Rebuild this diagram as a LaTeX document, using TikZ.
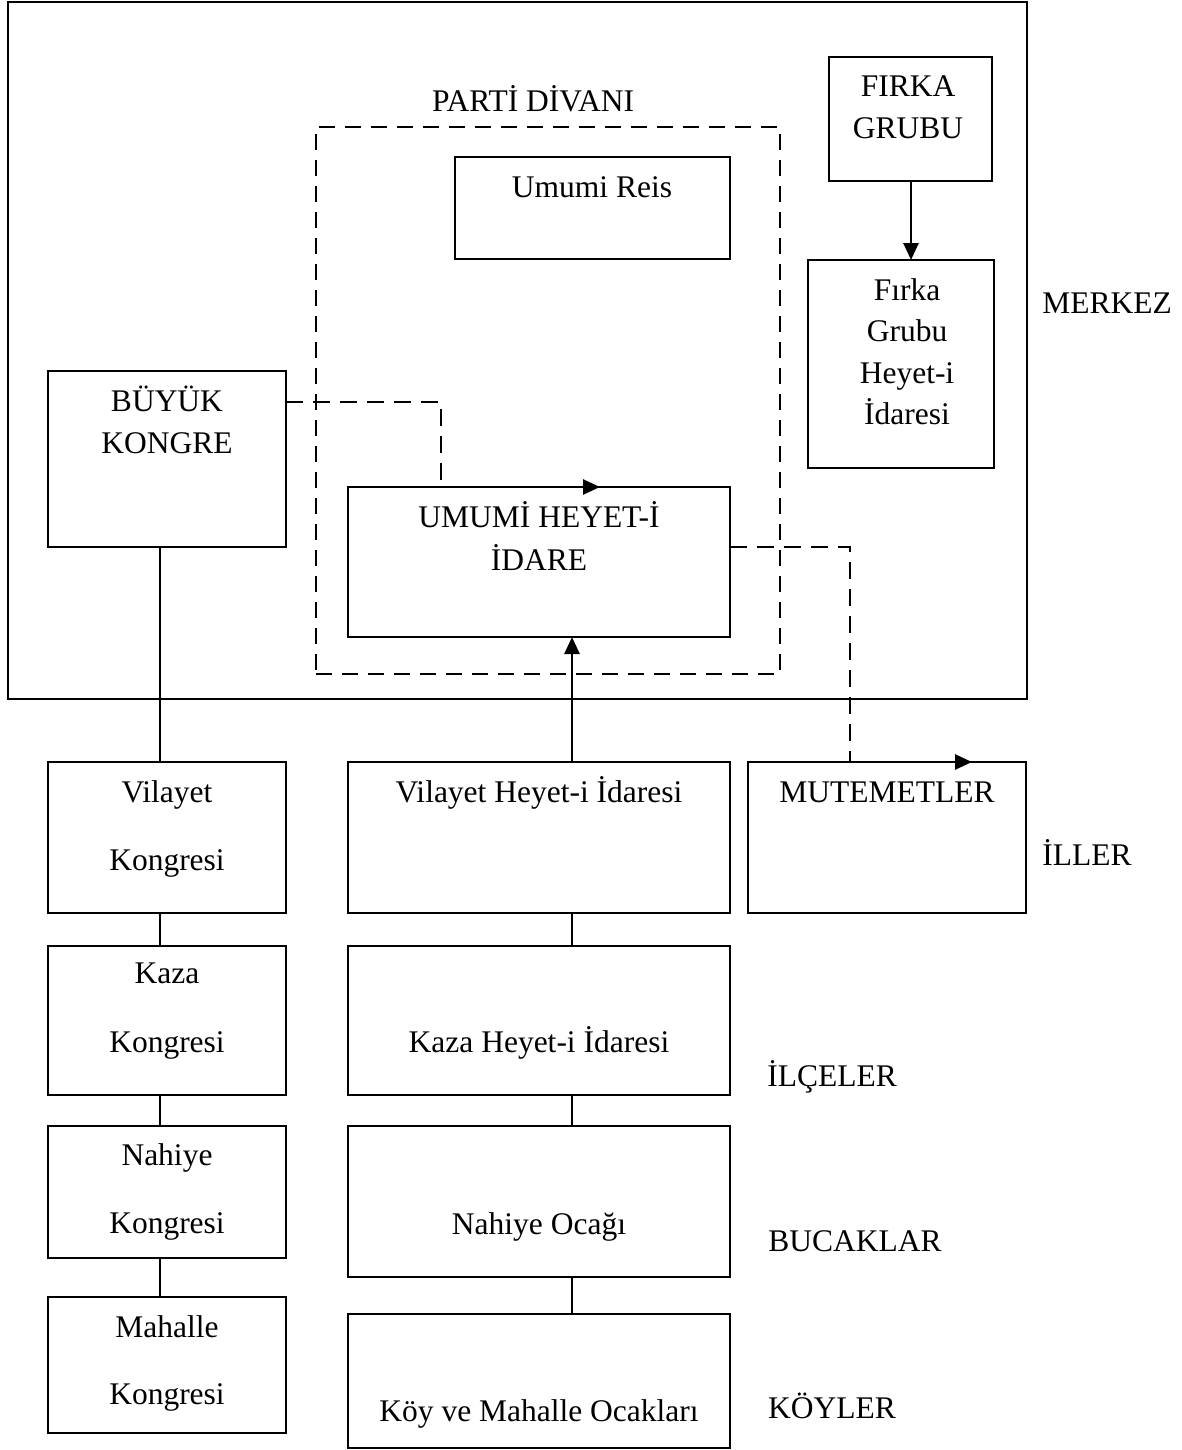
\documentclass[tikz,border=0pt]{standalone}
\usepackage{fontspec}
\setmainfont{Liberation Serif}
\usetikzlibrary{arrows.meta}
\begin{document}
\begin{tikzpicture}[x=1pt,y=-1pt,
  box/.style={draw, line width=2.1pt, anchor=north west, inner sep=0pt, outer sep=0pt},
  dbox/.style={box, dash pattern=on 16pt off 10pt},
  txt/.style={anchor=base, inner sep=0pt, font=\fontsize{31.5}{38}\selectfont},
  conn/.style={line width=2.1pt},
  dconn/.style={line width=2.6pt, dash pattern=on 17pt off 10pt},
  arr/.style={-{Triangle[length=17pt,width=15pt]}}
]
\useasboundingbox (0,0) rectangle (1181,1450);

% boxes
\node[box, minimum width=1019pt, minimum height=697pt] (merkez) at (8,2) {};
\node[dbox, minimum width=464pt, minimum height=547pt] (divani) at (316,127) {};
\node[box, minimum width=275pt, minimum height=102pt] (reis) at (455,157) {};
\node[box, minimum width=163pt, minimum height=124pt] (firka) at (829,57) {};
\node[box, minimum width=186pt, minimum height=208pt] (fgh) at (808,260) {};
\node[box, minimum width=238pt, minimum height=176pt] (buyuk) at (48,371) {};
\node[box, minimum width=382pt, minimum height=150pt] (umumi) at (348,487) {};
\node[box, minimum width=238pt, minimum height=151pt] (vk) at (48,762) {};
\node[box, minimum width=238pt, minimum height=149pt] (kk) at (48,946) {};
\node[box, minimum width=238pt, minimum height=132pt] (nk) at (48,1126) {};
\node[box, minimum width=238pt, minimum height=136pt] (mk) at (48,1297) {};
\node[box, minimum width=382pt, minimum height=151pt] (vh) at (348,762) {};
\node[box, minimum width=382pt, minimum height=149pt] (kh) at (348,946) {};
\node[box, minimum width=382pt, minimum height=151pt] (no) at (348,1126) {};
\node[box, minimum width=382pt, minimum height=134pt] (ko) at (348,1314) {};
\node[box, minimum width=278pt, minimum height=151pt] (mut) at (748,762) {};

% texts
\node[txt] (tdivani) at (533,112) {PARTİ DİVANI};
\node[txt] (treis) at (592,197) {Umumi Reis};
\node[txt] (tfirka1) at (908,97) {FIRKA};
\node[txt] (tfirka2) at (908,139) {GRUBU};
\node[txt] (tfgh1) at (907,300) {Fırka};
\node[txt] (tfgh2) at (907,341) {Grubu};
\node[txt] (tfgh3) at (907,383) {Heyet-i};
\node[txt] (tfgh4) at (907,424) {İdaresi};
\node[txt] (tbuyuk1) at (167,411) {BÜYÜK};
\node[txt] (tbuyuk2) at (167,453) {KONGRE};
\node[txt] (tumumi1) at (539,527) {UMUMİ HEYET-İ};
\node[txt] (tumumi2) at (539,570) {İDARE};
\node[txt] (tvk1) at (167,802) {Vilayet};
\node[txt] (tvk2) at (167,870) {Kongresi};
\node[txt] (tkk1) at (167,983) {Kaza};
\node[txt] (tkk2) at (167,1052) {Kongresi};
\node[txt] (tnk1) at (167,1165) {Nahiye};
\node[txt] (tnk2) at (167,1233) {Kongresi};
\node[txt] (tmk1) at (167,1337) {Mahalle};
\node[txt] (tmk2) at (167,1404) {Kongresi};
\node[txt] (tvh) at (539,802) {Vilayet Heyet-i İdaresi};
\node[txt] (tkh) at (539,1052) {Kaza Heyet-i İdaresi};
\node[txt] (tno) at (539,1234) {Nahiye Ocağı};
\node[txt] (tko) at (539,1421) {Köy ve Mahalle Ocakları};
\node[txt] (tmut) at (887,802) {MUTEMETLER};
\node[txt] (lmerkez) at (1107,313) {MERKEZ};
\node[txt] (liller) at (1087,865) {İLLER};
\node[txt] (lilce) at (832,1086) {İLÇELER};
\node[txt] (lbucak) at (855,1251) {BUCAKLAR};
\node[txt] (lkoy) at (832,1418) {KÖYLER};

% connectors
\coordinate (a1) at (600,487);
\coordinate (a2) at (972,762);
\draw[conn] (160,0 |- buyuk.south) -- (160,0 |- vk.north);
\draw[conn] (160,0 |- vk.south) -- (160,0 |- kk.north);
\draw[conn] (160,0 |- kk.south) -- (160,0 |- nk.north);
\draw[conn] (160,0 |- nk.south) -- (160,0 |- mk.north);
\draw[conn] (572,0 |- vh.south) -- (572,0 |- kh.north);
\draw[conn] (572,0 |- kh.south) -- (572,0 |- no.north);
\draw[conn] (572,0 |- no.south) -- (572,0 |- ko.north);
\draw[line width=2.8pt, arr] (572,0 |- vh.north) -- (572,0 |- umumi.south);
\draw[line width=2.8pt, arr] (911,0 |- firka.south) -- (911,0 |- fgh.north);
\draw[dconn, arr] (buyuk.east |- 0,402) -- (441,402) -- (441,0 |- umumi.north) -- (a1);
\draw[dconn, arr] (umumi.east |- 0,547) -- (850,547) -- (850,0 |- mut.north) -- (a2);
\end{tikzpicture}
\end{document}
